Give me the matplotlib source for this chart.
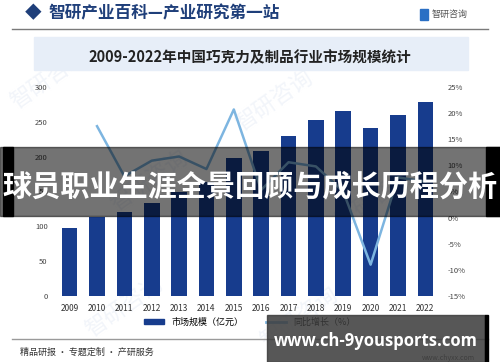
import numpy as np
import matplotlib
matplotlib.use('Agg')
from matplotlib import pyplot as plt
from matplotlib.patches import Rectangle, Patch
from matplotlib.lines import Line2D

plt.rcParams['font.family'] = ['Noto Sans CJK SC', 'DejaVu Sans']

years = ['2009', '2010', '2011', '2012', '2013', '2014', '2015',
         '2016', '2017', '2018', '2019', '2020', '2021', '2022']
market = [98, 114, 121, 134, 149.5, 163.5, 197.5, 208, 230, 252.5, 265, 241.5, 260, 278]
growth = [np.nan, 17.5, 7.9, 10.9, 11.7, 9.3, 20.7, 5.3, 10.6, 9.8, 5.0, -9.0, 7.7, 6.9]
left_ticks = [0, 50, 100, 150, 200, 250, 300]
right_ticks = [-15, -10, -5, 0, 5, 10, 15, 20, 25]

bar_color = '#173c8d'
line_color = '#7db5e0'

fig = plt.figure(figsize=(5, 3.62), dpi=100)
fig.patch.set_facecolor('white')

# faint watermarks, behind the chart
for (wx, wy) in [(0.1, 0.78), (0.55, 0.72), (0.3, 0.5), (0.75, 0.45), (0.25, 0.15), (0.6, 0.12)]:
    fig.text(wx, wy, '智研咨询', fontsize=16, color='#f2f5fa', rotation=35,
             ha='center', va='center', zorder=-1)

# header
fig.text(0.05, 0.962, '◆', fontsize=12, color='#1f3f7a', va='center', ha='left')
fig.text(0.096, 0.962, '智研产业百科—产业研究第一站', fontsize=12, color='#1f3f7a',
         fontweight='bold', va='center', ha='left')
fig.patches.append(Rectangle((0.84, 0.945), 0.016, 0.03, transform=fig.transFigure,
                             color='#2a6fc4', zorder=2))
fig.text(0.864, 0.96, '智研咨询', fontsize=6.5, color='#555555', va='center', ha='left')
fig.add_artist(Line2D([0.024, 0.976], [0.92, 0.92], transform=fig.transFigure,
                      color='#7a7a7a', lw=1))

# title band
fig.patches.append(Rectangle((0.068, 0.808), 0.868, 0.09, transform=fig.transFigure,
                             color='#e7eef8', zorder=1))
fig.text(0.5, 0.843, '2009-2022年中国巧克力及制品行业市场规模统计', fontsize=10.5,
         fontweight='bold', color='#222222', ha='center', va='center', zorder=2)

ax = fig.add_axes([0.112, 0.1823, 0.766, 0.5774])
ax.patch.set_alpha(0)
x = np.arange(len(years))
ax.bar(x, market, width=0.57, color=bar_color, zorder=2)
ax.set_xlim(-0.5, len(years) - 0.5)
ax.set_ylim(0, 300)
ax.set_yticks(left_ticks)
ax.set_yticklabels([str(v) for v in left_ticks], fontsize=5.5, color='#444444')
ax.set_xticks(x)
ax.set_xticklabels(years, fontsize=6, color='#333333')
ax.tick_params(length=0, pad=6)
for s in ax.spines.values():
    s.set_visible(False)

ax2 = ax.twinx()
ax2.plot(x, growth, color=line_color, lw=1.8, zorder=3)
ax2.set_ylim(-15, 25)
ax2.set_yticks(right_ticks)
ax2.set_yticklabels([f'{v}%' for v in right_ticks], fontsize=5.5, color='#444444')
ax2.tick_params(length=0, pad=6)
for s in ax2.spines.values():
    s.set_visible(False)

handles = [Patch(color=bar_color), Line2D([0], [0], color=line_color, lw=2)]
fig.legend(handles, ['市场规模（亿元）', '同比增长（%）'], loc='center',
           bbox_to_anchor=(0.5, 0.11), ncol=2, frameon=False, fontsize=6.5,
           handlelength=2.2, handleheight=0.5, columnspacing=2.5)

# footer
fig.add_artist(Line2D([0.024, 0.976], [0.063, 0.063], transform=fig.transFigure,
                      color='#9a9a9a', lw=1))
fig.text(0.04, 0.028, '精品研报 · 专题定制 · 产研服务', fontsize=6.5, color='#333333',
         va='center', ha='left')
fig.text(0.95, 0.012, 'www.chyxx.com', fontsize=5, color='#555555',
         va='center', ha='right')

# overlay banner
fig.patches.append(Rectangle((0.0, 0.403), 1.0, 0.19, transform=fig.transFigure,
                             color='#000000', alpha=0.55, zorder=10))
fig.patches.append(Rectangle((0.006, 0.403), 0.02, 0.19, transform=fig.transFigure,
                             color='#000000', zorder=10))
fig.patches.append(Rectangle((0.972, 0.403), 0.028, 0.19, transform=fig.transFigure,
                             color='#000000', zorder=10))
fig.text(0.5, 0.484, '球员职业生涯全景回顾与成长历程分析', fontsize=21, fontweight='bold',
         color='white', ha='center', va='center', zorder=11)

# bottom url box
fig.patches.append(Rectangle((0.534, 0.0), 0.436, 0.13, transform=fig.transFigure,
                             color='#3a3a3a', alpha=0.85, zorder=10))
fig.patches.append(Rectangle((0.97, 0.0), 0.006, 0.13, transform=fig.transFigure,
                             color='#000000', zorder=10))
fig.text(0.752, 0.058, 'www.ch-9yousports.com', fontsize=12, fontweight='bold',
         color='white', ha='center', va='center', zorder=11, family='Open Sans')

fig.savefig('out.png', dpi=100)
